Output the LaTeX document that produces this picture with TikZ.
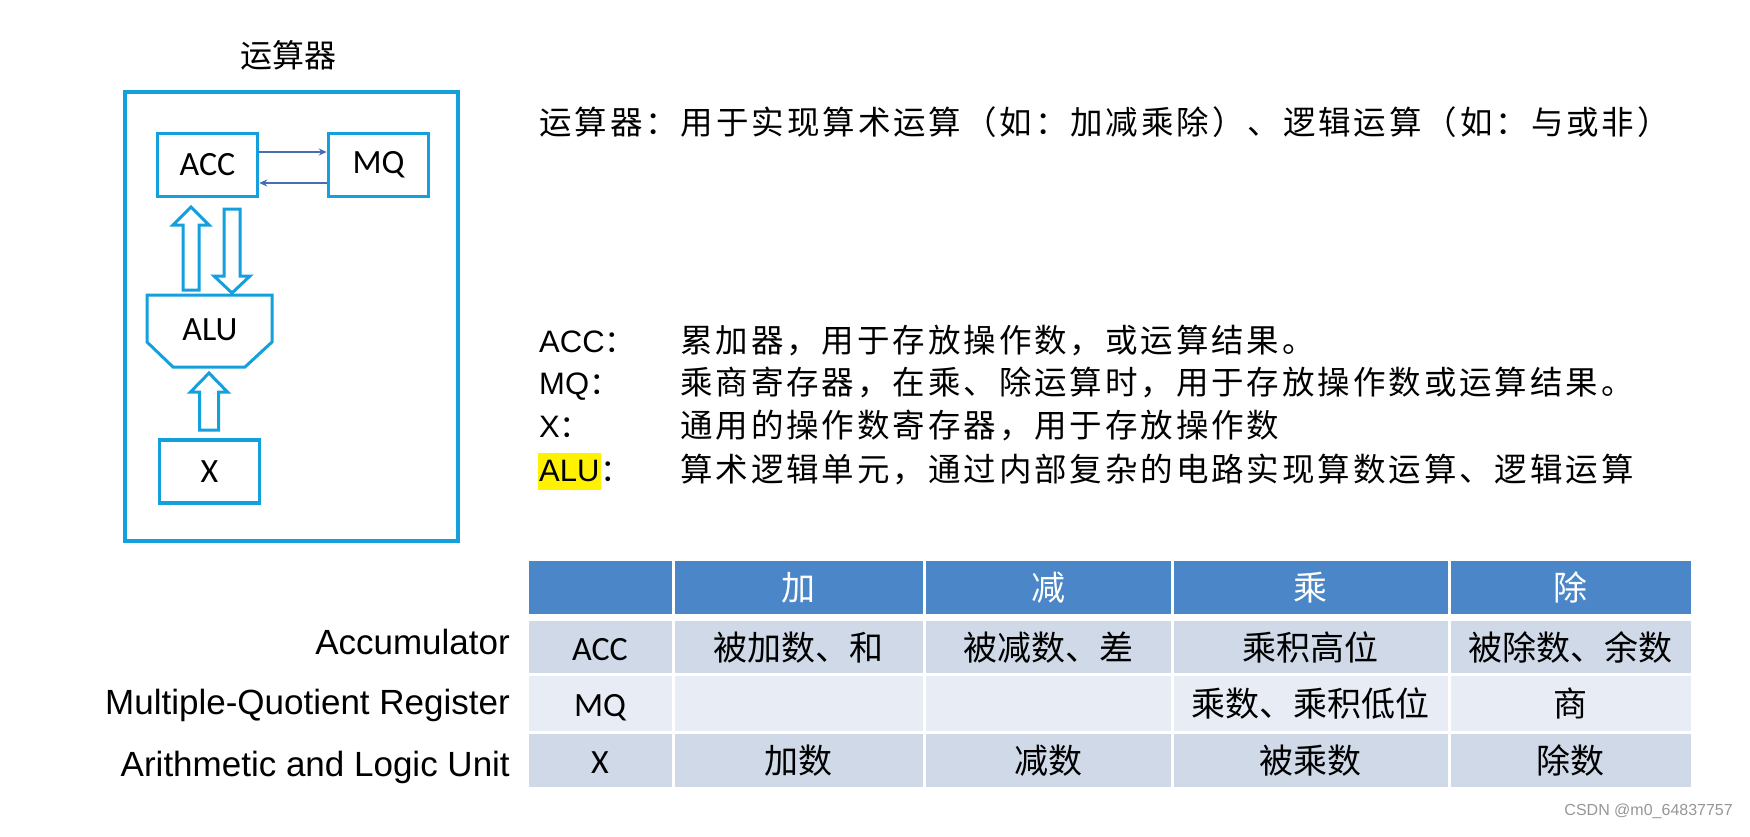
\documentclass[tikz,border=0pt]{standalone}
\usepackage{fontspec}
\setmainfont{Liberation Sans}
\newfontfamily\cjk{Noto Sans CJK SC}
\newfontfamily\cjkls[LetterSpace=9]{Noto Sans CJK SC}
\newfontfamily\calfont{Carlito}
\usetikzlibrary{arrows.meta}
\definecolor{boxcyan}{RGB}{20,160,220}
\definecolor{arrowblue}{RGB}{70,110,180}
\definecolor{hdrblue}{RGB}{74,134,200}
\definecolor{bandA}{RGB}{208,217,232}
\definecolor{bandB}{RGB}{232,237,245}
\definecolor{wmgray}{RGB}{150,150,150}
\newcommand\fsz[1]{\fontsize{#1}{#1}\selectfont}
% hollow block arrow pointing up (tip at smaller y) : x, ybottom, ytip, halfshaft, halfhead, headlen
\newcommand\hollowup[6]{%
  \draw[hollow] ({#1-#4},#2) -- ({#1-#4},{#3+#6}) -- ({#1-#5},{#3+#6}) -- (#1,#3)
    -- ({#1+#5},{#3+#6}) -- ({#1+#4},{#3+#6}) -- ({#1+#4},#2) -- cycle;}
% hollow block arrow pointing down : x, ytop, ytip, halfshaft, halfhead, headlen
\newcommand\hollowdown[6]{%
  \draw[hollow] ({#1-#4},#2) -- ({#1-#4},{#3-#6}) -- ({#1-#5},{#3-#6}) -- (#1,#3)
    -- ({#1+#5},{#3-#6}) -- ({#1+#4},{#3-#6}) -- ({#1+#4},#2) -- cycle;}
% table cell: name, x1, x2, y1, y2, fill, text
\newcommand\tcell[7]{%
  \fill[#6] ({#2+1.5},#4) rectangle ({#3-1.5},#5);
  \node[celltext] (#1) at ({(#2+#3)/2},{(#4+#5)/2}) {#7};}
\begin{document}
\begin{tikzpicture}[x=1pt,y=-1pt,
  cyanline/.style={draw=boxcyan, line width=3.5pt},
  reg/.style={cyanline, fill=white, minimum width=100pt, minimum height=63pt,
    inner sep=0pt, font=\calfont\fsz{34}},
  thinarrow/.style={draw=arrowblue, line width=1.6pt, -{Stealth[length=8pt,width=7pt]}},
  hollow/.style={draw=boxcyan, line width=3pt, fill=white, line join=miter},
  celltext/.style={inner sep=0pt, text height=30pt, text depth=4pt, font=\cjk\fsz{34}},
  lbl/.style={anchor=base east, inner sep=0pt, font=\fsz{35}},
  deflbl/.style={anchor=base west, inner sep=0pt, font=\fsz{31}},
  deftxt/.style={anchor=base west, inner sep=0pt, font=\cjkls\fsz{32.5}}
]
\useasboundingbox (0,0) rectangle (1750,836);

% ---------- left diagram ----------
\node[font=\cjk\fsz{32}, inner sep=0pt] (title) at (288,55) {运算器};
\draw[cyanline, line width=4pt] (125,92) rectangle (458,541);

\node[reg] (ACC) at (207.5,165) {ACC};
\node[reg] (MQ) at (378.5,165) {MQ};
\node[reg] (X) at (209.5,471.5) {X};

\draw[cyanline, line width=3pt, fill=white, line join=miter]
  (147,295) -- (272,295) -- (272,342) -- (245,367) -- (173,367) -- (147,342) -- cycle;
\node[font=\calfont\fsz{34}, inner sep=0pt] (ALU) at (210,330) {ALU};

\coordinate (ya) at (0,152);
\coordinate (yb) at (0,183);
\draw[thinarrow] (ACC.east |- ya) -- (MQ.west |- ya);
\draw[thinarrow] (MQ.west |- yb) -- (ACC.east |- yb);

\hollowup{191}{290}{207}{8}{18}{18}
\hollowdown{232}{209}{293}{8}{18}{17}
\hollowup{209}{430}{373}{9.5}{18.5}{19}

% ---------- right text ----------
\node[anchor=west, inner sep=0pt, font=\cjkls\fsz{32.5}] (intro) at (539,122)
  {运算器：用于实现算术运算（如：加减乘除）、逻辑运算（如：与或非）};

\node[deflbl] (dACC) at (539,352) {ACC\cjk：};
\node[deftxt] (tACC) at (680,352) {累加器，用于存放操作数，或运算结果。};
\node[deflbl] (dMQ) at (539,394) {MQ\cjk：};
\node[deftxt] (tMQ) at (680,394) {乘商寄存器，在乘、除运算时，用于存放操作数或运算结果。};
\node[deflbl] (dX) at (539,437) {X\cjk：};
\node[deftxt] (tX) at (680,437) {通用的操作数寄存器，用于存放操作数};
\node[deflbl, fill=yellow, inner xsep=1pt, inner ysep=0pt, text depth=9pt, text height=28pt] (dALU) at (538,481) {ALU};
\node[anchor=base west, inner sep=0pt, font=\cjk\fsz{31}] (dALUc) at (dALU.base east) {：};
\node[deftxt] (tALU) at (680,481) {算术逻辑单元，通过内部复杂的电路实现算数运算、逻辑运算};

% ---------- table ----------
\def\hy{561}\def\hz{614}
\tcell{h0}{527}{673}{\hy}{\hz}{hdrblue}{}
\tcell{h1}{673}{924}{\hy}{\hz}{hdrblue}{\color{white}加}
\tcell{h2}{924}{1172}{\hy}{\hz}{hdrblue}{\color{white}减}
\tcell{h3}{1172}{1449}{\hy}{\hz}{hdrblue}{\color{white}乘}
\tcell{h4}{1449}{1692}{\hy}{\hz}{hdrblue}{\color{white}除}

\tcell{a0}{527}{673}{621}{673}{bandA}{\calfont ACC}
\tcell{a1}{673}{924}{621}{673}{bandA}{被加数、和}
\tcell{a2}{924}{1172}{621}{673}{bandA}{被减数、差}
\tcell{a3}{1172}{1449}{621}{673}{bandA}{乘积高位}
\tcell{a4}{1449}{1692}{621}{673}{bandA}{被除数、余数}

\tcell{m0}{527}{673}{676}{731}{bandB}{\calfont MQ}
\tcell{m1}{673}{924}{676}{731}{bandB}{}
\tcell{m2}{924}{1172}{676}{731}{bandB}{}
\tcell{m3}{1172}{1449}{676}{731}{bandB}{乘数、乘积低位}
\tcell{m4}{1449}{1692}{676}{731}{bandB}{商}

\tcell{x0}{527}{673}{734}{787}{bandA}{\calfont X}
\tcell{x1}{673}{924}{734}{787}{bandA}{加数}
\tcell{x2}{924}{1172}{734}{787}{bandA}{减数}
\tcell{x3}{1172}{1449}{734}{787}{bandA}{被乘数}
\tcell{x4}{1449}{1692}{734}{787}{bandA}{除数}

\node[lbl] (lA) at (510,654) {Accumulator};
\node[lbl] (lM) at (510,714) {Multiple-Quotient Register};
\node[lbl] (lX) at (510,776) {Arithmetic and Logic Unit};

\node[anchor=east, inner sep=0pt, font=\fsz{16}, text=wmgray] (wm) at (1733,811) {CSDN @m0\_64837757};
\end{tikzpicture}
\end{document}
